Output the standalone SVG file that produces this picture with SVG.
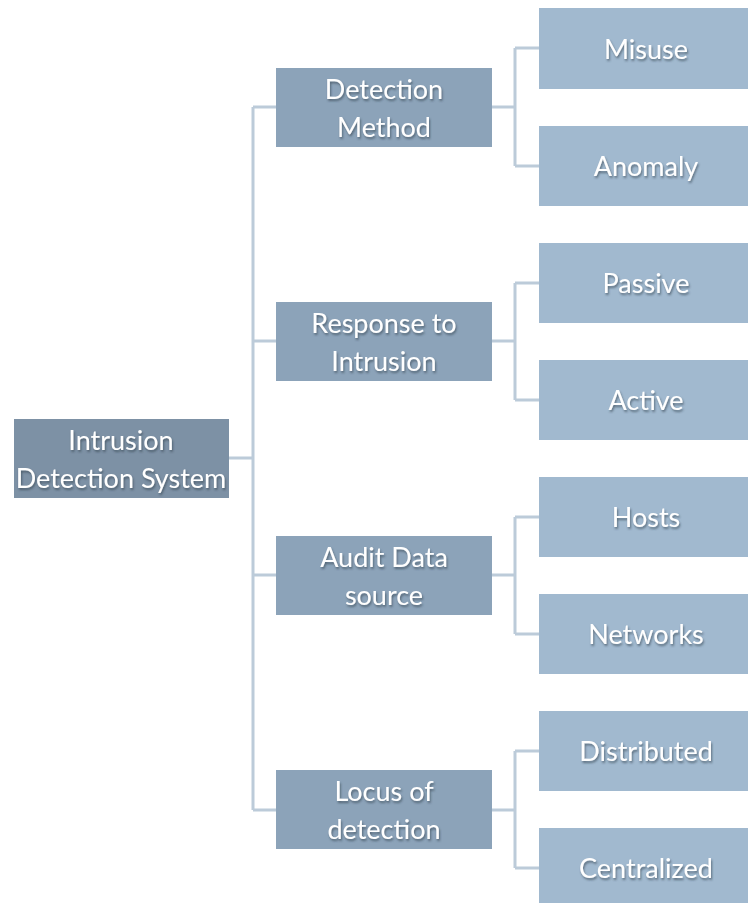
<svg xmlns="http://www.w3.org/2000/svg" width="748" height="903" viewBox="0 0 748 903">
<defs>
<style>
.root{fill:#7d91a5}
.l2{fill:#8ca3b9}
.l3{fill:#a1b9cf}
.t{font-family:Lato,"Open Sans","DejaVu Sans",sans-serif;font-size:27px;fill:#ffffff;text-anchor:middle;filter:url(#sh)}
.c{stroke:#bccbd9;stroke-width:3;fill:none}
</style>
<filter id="sh" x="-10%" y="-30%" width="120%" height="160%">
<feDropShadow dx="1" dy="2" stdDeviation="1.2" flood-color="#2a3a4a" flood-opacity="0.6"/>
</filter>
</defs>
<rect width="748" height="903" fill="#ffffff"/>
<g id="connectors">
<path class="c" d="M229,458 H253 M253,107 V810 M253,107 H276 M253,341 H276 M253,575 H276 M253,810 H276"/>
<path class="c" d="M492,107 H515 M515,48 V166 M515,48 H539 M515,166 H539"/>
<path class="c" d="M492,341 H515 M515,283 V400 M515,283 H539 M515,400 H539"/>
<path class="c" d="M492,575 H515 M515,517 V634 M515,517 H539 M515,634 H539"/>
<path class="c" d="M492,810 H515 M515,751 V868 M515,751 H539 M515,868 H539"/>
</g>
<g id="root"><rect class="root" x="14" y="419" width="215" height="79"/><text class="t" x="121" y="450">Intrusion</text><text class="t" x="121" y="488">Detection System</text></g>
<g id="detection-method"><rect class="l2" x="276" y="68" width="216" height="79"/><text class="t" x="384" y="99">Detection</text><text class="t" x="384" y="137">Method</text></g>
<g id="response"><rect class="l2" x="276" y="302" width="216" height="79"/><text class="t" x="384" y="333">Response to</text><text class="t" x="384" y="371">Intrusion</text></g>
<g id="audit"><rect class="l2" x="276" y="536" width="216" height="79"/><text class="t" x="384" y="567">Audit Data</text><text class="t" x="384" y="605">source</text></g>
<g id="locus"><rect class="l2" x="276" y="770" width="216" height="79"/><text class="t" x="384" y="801">Locus of</text><text class="t" x="384" y="839">detection</text></g>
<g id="misuse"><rect class="l3" x="539" y="8" width="209" height="81"/><text class="t" x="646" y="59">Misuse</text></g>
<g id="anomaly"><rect class="l3" x="539" y="126" width="209" height="80"/><text class="t" x="646" y="176">Anomaly</text></g>
<g id="passive"><rect class="l3" x="539" y="243" width="209" height="80"/><text class="t" x="646" y="293">Passive</text></g>
<g id="active"><rect class="l3" x="539" y="360" width="209" height="80"/><text class="t" x="646" y="410">Active</text></g>
<g id="hosts"><rect class="l3" x="539" y="477" width="209" height="80"/><text class="t" x="646" y="527">Hosts</text></g>
<g id="networks"><rect class="l3" x="539" y="594" width="209" height="80"/><text class="t" x="646" y="644">Networks</text></g>
<g id="distributed"><rect class="l3" x="539" y="711" width="209" height="80"/><text class="t" x="646" y="761">Distributed</text></g>
<g id="centralized"><rect class="l3" x="539" y="828" width="209" height="80"/><text class="t" x="646" y="878">Centralized</text></g>
</svg>
